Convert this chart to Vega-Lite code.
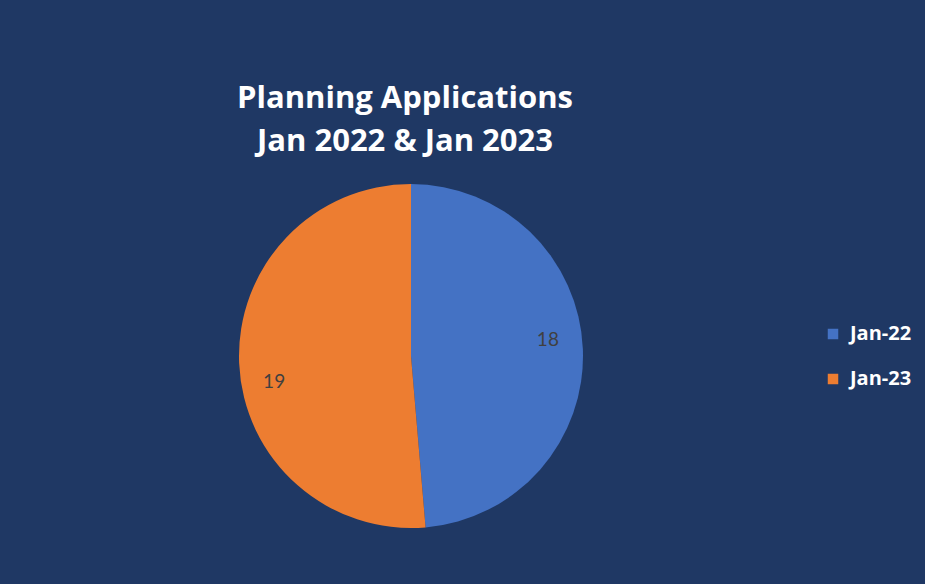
{
  "$schema": "https://vega.github.io/schema/vega-lite/v6.json",
  "width": 344,
  "height": 344,
  "autosize": {"type": "none"},
  "padding": {"left": 239, "top": 184, "right": 342, "bottom": 56},
  "background": "#1F3864",
  "title": {
    "text": ["Planning Applications", "Jan 2022 & Jan 2023"],
    "font": "Open Sans",
    "fontSize": 31,
    "fontWeight": "bold",
    "color": "#FFFFFF",
    "anchor": "middle",
    "frame": "group",
    "dx": -6,
    "offset": 26,
    "lineHeight": 43
  },
  "data": {
    "values": [
      {"month": "Jan-22", "count": 18},
      {"month": "Jan-23", "count": 19}
    ]
  },
  "encoding": {
    "theta": {"field": "count", "type": "quantitative", "stack": true},
    "order": {"field": "month", "type": "nominal"}
  },
  "layer": [
    {
      "mark": {"type": "arc", "outerRadius": 172},
      "encoding": {
        "color": {
          "field": "month",
          "type": "nominal",
          "scale": {"domain": ["Jan-22", "Jan-23"], "range": ["#4472C4", "#ED7D31"]},
          "legend": {
            "title": null,
            "orient": "none",
            "legendX": 584,
            "legendY": 140,
            "symbolType": "square",
            "symbolSize": 110,
            "symbolStrokeWidth": 0,
            "labelFont": "Open Sans",
            "labelFontSize": 20,
            "labelFontWeight": "bold",
            "labelColor": "#FFFFFF",
            "rowPadding": 25,
            "labelOffset": 7
          }
        }
      }
    },
    {
      "mark": {"type": "text", "radius": 137, "dy": -10, "font": "Lato", "fontSize": 19, "color": "#404040"},
      "encoding": {
        "text": {"condition": {"test": "datum.month === 'Jan-22'", "field": "count", "type": "quantitative"}, "value": ""}
      }
    },
    {
      "mark": {"type": "text", "radius": 137, "dy": 20, "font": "Lato", "fontSize": 19, "color": "#404040"},
      "encoding": {
        "text": {"condition": {"test": "datum.month === 'Jan-23'", "field": "count", "type": "quantitative"}, "value": ""}
      }
    }
  ]
}
